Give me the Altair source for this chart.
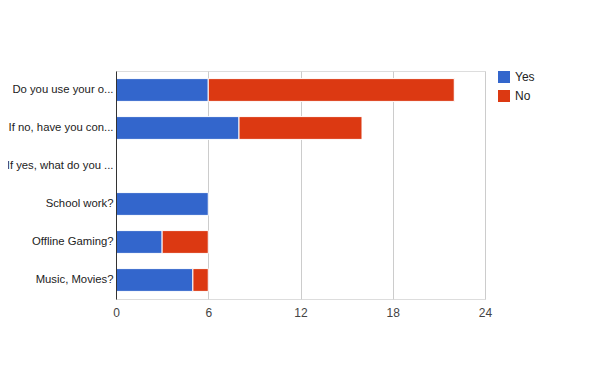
import altair as alt
import pandas as pd

categories = [
    "Do you use your o...",
    "If no, have you con...",
    "If yes, what do you ...",
    "School work?",
    "Offline Gaming?",
    "Music, Movies?",
]
yes_values = [6, 8, 0, 6, 3, 5]
no_values = [16, 8, 0, 0, 3, 1]
series = ["Yes", "No"]
colors = ["#3366cc", "#dc3912"]
x_ticks = [0, 6, 12, 18, 24]

rows = []
for c, y, n in zip(categories, yes_values, no_values):
    rows.append({"q": c, "answer": "Yes", "order": 0, "value": y})
    rows.append({"q": c, "answer": "No", "order": 1, "value": n})
df = pd.DataFrame(rows)
df = df[df["value"] > 0]

FONT = "Liberation Sans"

chart = (
    alt.Chart(df)
    .mark_bar(stroke="white", strokeWidth=1)
    .encode(
        y=alt.Y(
            "q:N",
            sort=categories,
            scale=alt.Scale(domain=categories, paddingInner=0.4, paddingOuter=0.2),
            axis=alt.Axis(
                title=None,
                ticks=False,
                grid=False,
                domain=True,
                domainColor="#333333",
                domainWidth=1,
                labelFont=FONT,
                labelFontSize=11.3,
                labelColor="#222222",
                labelPadding=3,
                labelLimit=200,
                zindex=1,
            ),
        ),
        x=alt.X(
            "value:Q",
            stack="zero",
            scale=alt.Scale(domain=[0, 24], nice=False),
            axis=alt.Axis(
                title=None,
                values=x_ticks,
                ticks=False,
                domain=False,
                grid=True,
                gridColor="#cccccc",
                gridWidth=1,
                labelFont=FONT,
                labelFontSize=12,
                labelColor="#444444",
                labelPadding=8,
                labelFlush=False,
            ),
        ),
        color=alt.Color(
            "answer:N",
            scale=alt.Scale(domain=series, range=colors),
            legend=alt.Legend(
                title=None,
                orient="none",
                legendX=382,
                legendY=0,
                symbolType="square",
                symbolSize=144,
                symbolStrokeWidth=0,
                symbolOpacity=1,
                labelFont=FONT,
                labelFontSize=12,
                labelColor="#222222",
                rowPadding=7,
                labelOffset=5,
            ),
        ),
        order=alt.Order("order:Q"),
    )
    .properties(
        width=369,
        height=228,
        autosize=alt.AutoSizeParams(type="none"),
        padding={"left": 108, "top": 63, "right": 107, "bottom": 64},
    )
    .configure_view(stroke=None)
    .configure(background="white")
)

chart.save("out.html", embed_options={"renderer": "svg", "actions": False})
